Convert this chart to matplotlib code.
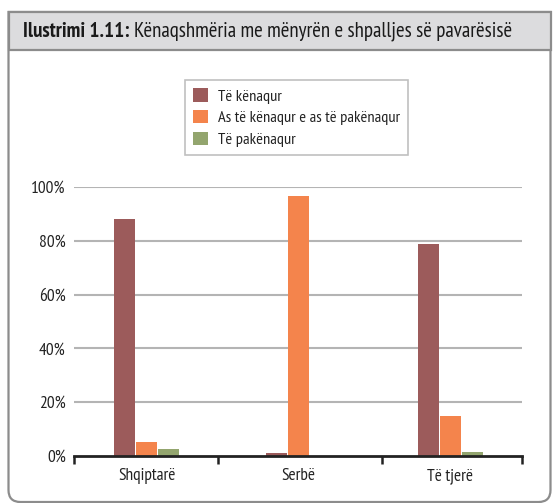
import numpy as np
import matplotlib
matplotlib.use('Agg')
import matplotlib.pyplot as plt
from matplotlib.path import Path
from matplotlib.patches import PathPatch, Rectangle

plt.rcParams['font.family'] = ['PT Sans Narrow', 'DejaVu Sans']

# data (%)
groups = ['Shqiptarë', 'Serbë', 'Të tjerë']
series = ['Të kënaqur', 'As të kënaqur e as të pakënaqur', 'Të pakënaqur']
kenaqur = [88.1, 1.1, 78.8]
neutral = [5.2, 96.8, 15.0]
pakenaqur = [2.7, 0.0, 1.6]
colors = ['#9c5b5b', '#f4844c', '#93a56e']
yticks = [0, 20, 40, 60, 80, 100]

W, H = 558, 503
fig = plt.figure(figsize=(W / 100, H / 100), dpi=100)

# frame + header, drawn in pixel coords
bg = fig.add_axes([0, 0, 1, 1])
bg.set_xlim(0, W); bg.set_ylim(H, 0); bg.axis('off')
L, R, T, B, r = 8.5, 550.5, 12, 502, 12
verts = [(L, T), (L, B - r), (L, B), (L + r, B), (R - r, B), (R, B), (R, B - r), (R, T), (L, T)]
codes = [Path.MOVETO, Path.LINETO, Path.CURVE3, Path.CURVE3, Path.LINETO,
         Path.CURVE3, Path.CURVE3, Path.LINETO, Path.CLOSEPOLY]
bg.add_patch(PathPatch(Path(verts, codes), facecolor='white', edgecolor='#8c8c8c', lw=1.6))
bg.add_patch(Rectangle((L, T), R - L, 38, facecolor='#dcdcde', edgecolor='#8c8c8c', lw=1.6))
t1 = bg.text(23, 31.5, 'Ilustrimi 1.11:', fontsize=15, fontweight='bold',
             va='center', ha='left', color='#1a1a1a')
fig.canvas.draw()
bb = t1.get_window_extent()
bg.text(bb.x1 + 4, H - 31.5, 'Kënaqshmëria me mënyrën e shpalljes së pavarësisë', fontsize=15,
        va='center', ha='left', color='#1a1a1a', transform=None)

# chart
ax = fig.add_axes([74 / W, 47 / H, (521.7 - 74) / W, 269 / H])
x = np.arange(len(groups))
w = 0.138
off = 0.145
for i, (vals, c, lab) in enumerate(zip([kenaqur, neutral, pakenaqur], colors, series)):
    ax.bar(x + (i - 1) * off, vals, width=w, color=c, label=lab, zorder=3)

ax.set_xlim(-0.48, 2.47)
ax.set_ylim(0, 100)
ax.set_yticks(yticks)
ax.set_yticklabels([f'{v}%' for v in yticks], fontsize=12.5, color='#222222')
ax.tick_params(axis='y', length=0, pad=6)
for v in yticks[1:]:
    ax.axhline(v, color='#b4b4b4', lw=1.5, zorder=1)
ax.set_xticks(x)
ax.set_xticklabels(groups, fontsize=12.5, color='#222222')
ax.tick_params(axis='x', which='major', length=0, pad=9)
ax.set_xticks([-0.48, 0.47, 1.55, 2.47], minor=True)
ax.tick_params(axis='x', which='minor', length=6, width=1.8, color='#222222', direction='out')
for s in ['top', 'right', 'left']:
    ax.spines[s].set_visible(False)
ax.spines['bottom'].set_linewidth(2)
ax.spines['bottom'].set_color('#222222')
ax.spines['bottom'].set_zorder(4)

leg = fig.legend(loc='upper left', bbox_to_anchor=(185 / W, 1 - 80 / H), fontsize=11.8,
                 frameon=True, fancybox=False, edgecolor='#b0b0b0', handlelength=0.9,
                 handleheight=0.9, handletextpad=0.6, labelspacing=0.38, borderpad=0.5,
                 borderaxespad=0)
leg.get_frame().set_linewidth(1.2)
for t in leg.get_texts():
    t.set_color('#222222')

fig.savefig('out.png', dpi=100)
